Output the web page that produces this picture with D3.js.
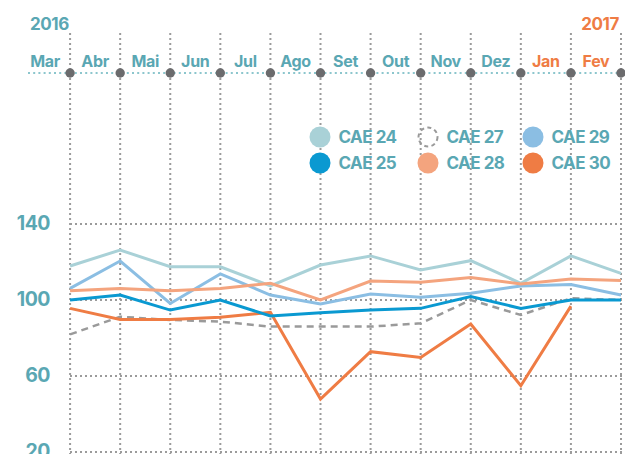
<!DOCTYPE html>
<html>
<head>
<meta charset="utf-8">
<script src="https://cdn.jsdelivr.net/npm/d3@7"></script>
<style>
  html, body { margin: 0; padding: 0; background: #fff; }
  svg { display: block; font-family: Inter, Lato, sans-serif; font-weight: 700; }
</style>
</head>
<body>
<svg id="chart" width="625" height="454"></svg>
<script>
const months = ["Mar","Abr","Mai","Jun","Jul","Ago","Set","Out","Nov","Dez","Jan","Fev"];
const monthYear = [2016,2016,2016,2016,2016,2016,2016,2016,2016,2016,2017,2017];
const years = ["2016","2017"];
const yTicks = [20, 60, 100, 140];

const cae24 = [117.9,126.3,117.5,117.5,107.4,118.4,123.2,115.8,120.7,108.8,123.2,114.0];
const cae25 = [100.0,102.6,94.7,100.0,91.6,93.3,94.7,95.6,101.8,95.6,100.0,100.0];
const cae27 = [81.9,91.2,89.5,88.6,86.0,86.0,86.0,87.7,100.0,92.1,100.9,100.0];
const cae28 = [104.9,106.1,104.9,106.1,108.8,100.0,110.0,109.3,111.9,108.4,111.0,110.2];
const cae29 = [106.1,120.5,98.2,113.7,102.6,97.9,103.2,101.4,103.5,107.4,108.2,102.6];
const cae30 = [95.6,89.8,89.8,90.9,93.5,47.9,72.8,69.8,87.4,54.9,96.8,null];

const seriesNames = ["CAE 24","CAE 25","CAE 27","CAE 28","CAE 29","CAE 30"];
const seriesColors = ["#a9d1d7","#0a99d1","#9a9a9a","#f4a47e","#8bbee3","#ef7c44"];

const teal = "#5aa7b3";
const orange = "#ef7c44";
const gridColor = "#9b9b9b";

const svg = d3.select("#chart");

const xBand = d3.scaleBand().domain(months).range([20, 621]);
const bw = xBand.bandwidth();
const xPt = m => xBand(m) + bw;
const y = d3.scaleLinear().domain([20, 140]).range([452, 224]);

// vertical grid lines
svg.append("g").selectAll("line").data(months).join("line")
  .attr("x1", d => xPt(d)).attr("x2", d => xPt(d))
  .attr("y1", 33).attr("y2", 454)
  .attr("stroke", gridColor).attr("stroke-width", 2)
  .attr("stroke-dasharray", "2,3");

// horizontal grid lines
svg.append("g").selectAll("line").data(yTicks).join("line")
  .attr("x1", 70).attr("x2", 625)
  .attr("y1", d => y(d)).attr("y2", d => y(d))
  .attr("stroke", gridColor).attr("stroke-width", 2)
  .attr("stroke-dasharray", "2,3");

// y axis labels
const yAxis = d3.axisLeft(y).tickValues(yTicks).tickSize(0).tickPadding(0);
const gy = svg.append("g").attr("transform", "translate(50,0)").call(yAxis);
gy.select(".domain").remove();
gy.selectAll("text")
  .attr("fill", teal).attr("font-size", 19.5).attr("font-weight", 700)
  .attr("font-family", "Inter, Lato, sans-serif")
  .attr("letter-spacing", "-0.5")
  .attr("dy", "0.3em");

// header teal dotted line
svg.append("line")
  .attr("x1", 28).attr("x2", 625).attr("y1", 73).attr("y2", 73)
  .attr("stroke", "#8cc6cd").attr("stroke-width", 2.2)
  .attr("stroke-dasharray", "2,3.2");

// header month labels
svg.append("g").selectAll("text").data(months).join("text")
  .attr("x", d => xBand(d) + bw / 2)
  .attr("y", 67)
  .attr("text-anchor", "middle")
  .attr("font-size", 16)
  .attr("letter-spacing", "-0.3")
  .attr("fill", (d, i) => monthYear[i] === 2017 ? orange : teal)
  .text(d => d);

// header dots
svg.append("g").selectAll("circle").data(months).join("circle")
  .attr("cx", d => xPt(d)).attr("cy", 73).attr("r", 4.7)
  .attr("fill", "#6b6b6d");

// years
svg.append("text").attr("x", 30).attr("y", 29.5).attr("font-size", 17)
  .attr("letter-spacing", "-0.4")
  .attr("fill", teal).text(years[0]);
svg.append("text").attr("x", 619).attr("y", 29.5).attr("font-size", 17)
  .attr("letter-spacing", "-0.4")
  .attr("text-anchor", "end").attr("fill", orange).text(years[1]);

// lines
const line = d3.line()
  .defined(d => d.v !== null)
  .x(d => xPt(d.m))
  .y(d => y(d.v));

const allData = [cae24, cae25, cae27, cae28, cae29, cae30];
const drawOrder = [0, 4, 3, 2, 5, 1];
drawOrder.forEach(k => {
  const pts = months.map((m, i) => ({ m, v: allData[k][i] }));
  svg.append("path")
    .datum(pts)
    .attr("d", line)
    .attr("fill", "none")
    .attr("stroke", seriesColors[k])
    .attr("stroke-width", k === 2 ? 2.5 : 3)
    .attr("stroke-dasharray", k === 2 ? "7,5" : null)
    .attr("stroke-linejoin", "miter");
});

// legend
const legendX = [320, 428, 533];
const legendY = [137, 163];
const legendOrder = [[0, 2, 4], [1, 3, 5]];
legendOrder.forEach((row, r) => {
  row.forEach((k, c) => {
    const g = svg.append("g").attr("transform", `translate(${legendX[c]},${legendY[r]})`);
    if (k === 2) {
      g.append("circle").attr("r", 9.5).attr("fill", "none")
        .attr("stroke", "#9a9a9a").attr("stroke-width", 2)
        .attr("stroke-dasharray", "4,3.3");
    } else {
      g.append("circle").attr("r", 10.5).attr("fill", seriesColors[k]);
    }
    g.append("text").attr("x", 18.5).attr("y", 6.3)
      .attr("font-size", 17).attr("fill", teal)
      .attr("letter-spacing", "-0.5")
      .text(seriesNames[k]);
  });
});
</script>
</body>
</html>
